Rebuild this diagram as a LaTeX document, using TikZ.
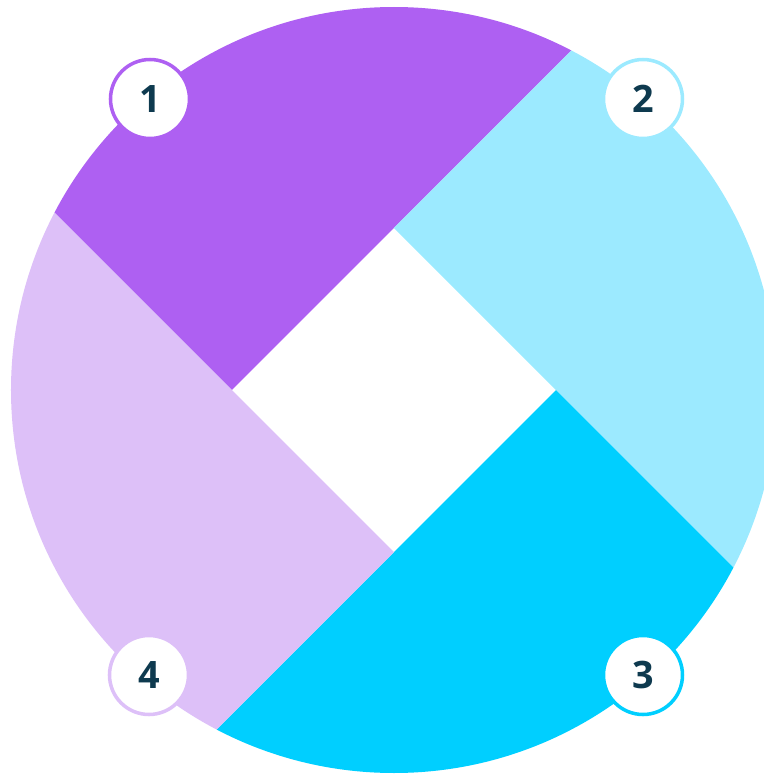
\documentclass[tikz,border=0pt]{standalone}
\usepackage{fontspec}
\setmainfont{Open Sans}
\definecolor{purp}{HTML}{AE60F2}
\definecolor{lilac}{HTML}{DDC0F8}
\definecolor{skyl}{HTML}{9CEAFF}
\definecolor{skyd}{HTML}{00CFFF}
\definecolor{ink}{HTML}{0E3A4F}
\tikzset{
  badge/.style={circle, fill=white, draw=#1, line width=2pt, minimum size=1.58cm,
    inner sep=0pt, text=ink, font=\fontsize{21.5}{24}\selectfont\bfseries}
}
\begin{document}
\begin{tikzpicture}
 \useasboundingbox (-7.88,-7.72) rectangle (7.40,7.80);
 \begin{scope}
  \clip (0,0) circle (7.66);
  \fill[purp]  (-3.24,0) -- (-11.24,8) -- (8,11.24) -- (0,3.24) -- cycle;
  \fill[skyl]  (0,3.24) -- (8,11.24) -- (11.24,-8) -- (3.24,0) -- cycle;
  \fill[skyd]  (3.24,0) -- (11.24,-8) -- (-8,-11.24) -- (0,-3.24) -- cycle;
  \fill[lilac] (0,-3.24) -- (-8,-11.24) -- (-11.24,8) -- (-3.24,0) -- cycle;
 \end{scope}
 \node[badge=purp]  (n1) at (-4.88,5.82) {1};
 \node[badge=skyl]  (n2) at (4.98,5.82) {2};
 \node[badge=skyd]  (n3) at (4.98,-5.70) {3};
 \node[badge=lilac] (n4) at (-4.90,-5.70) {4};
\end{tikzpicture}
\end{document}
